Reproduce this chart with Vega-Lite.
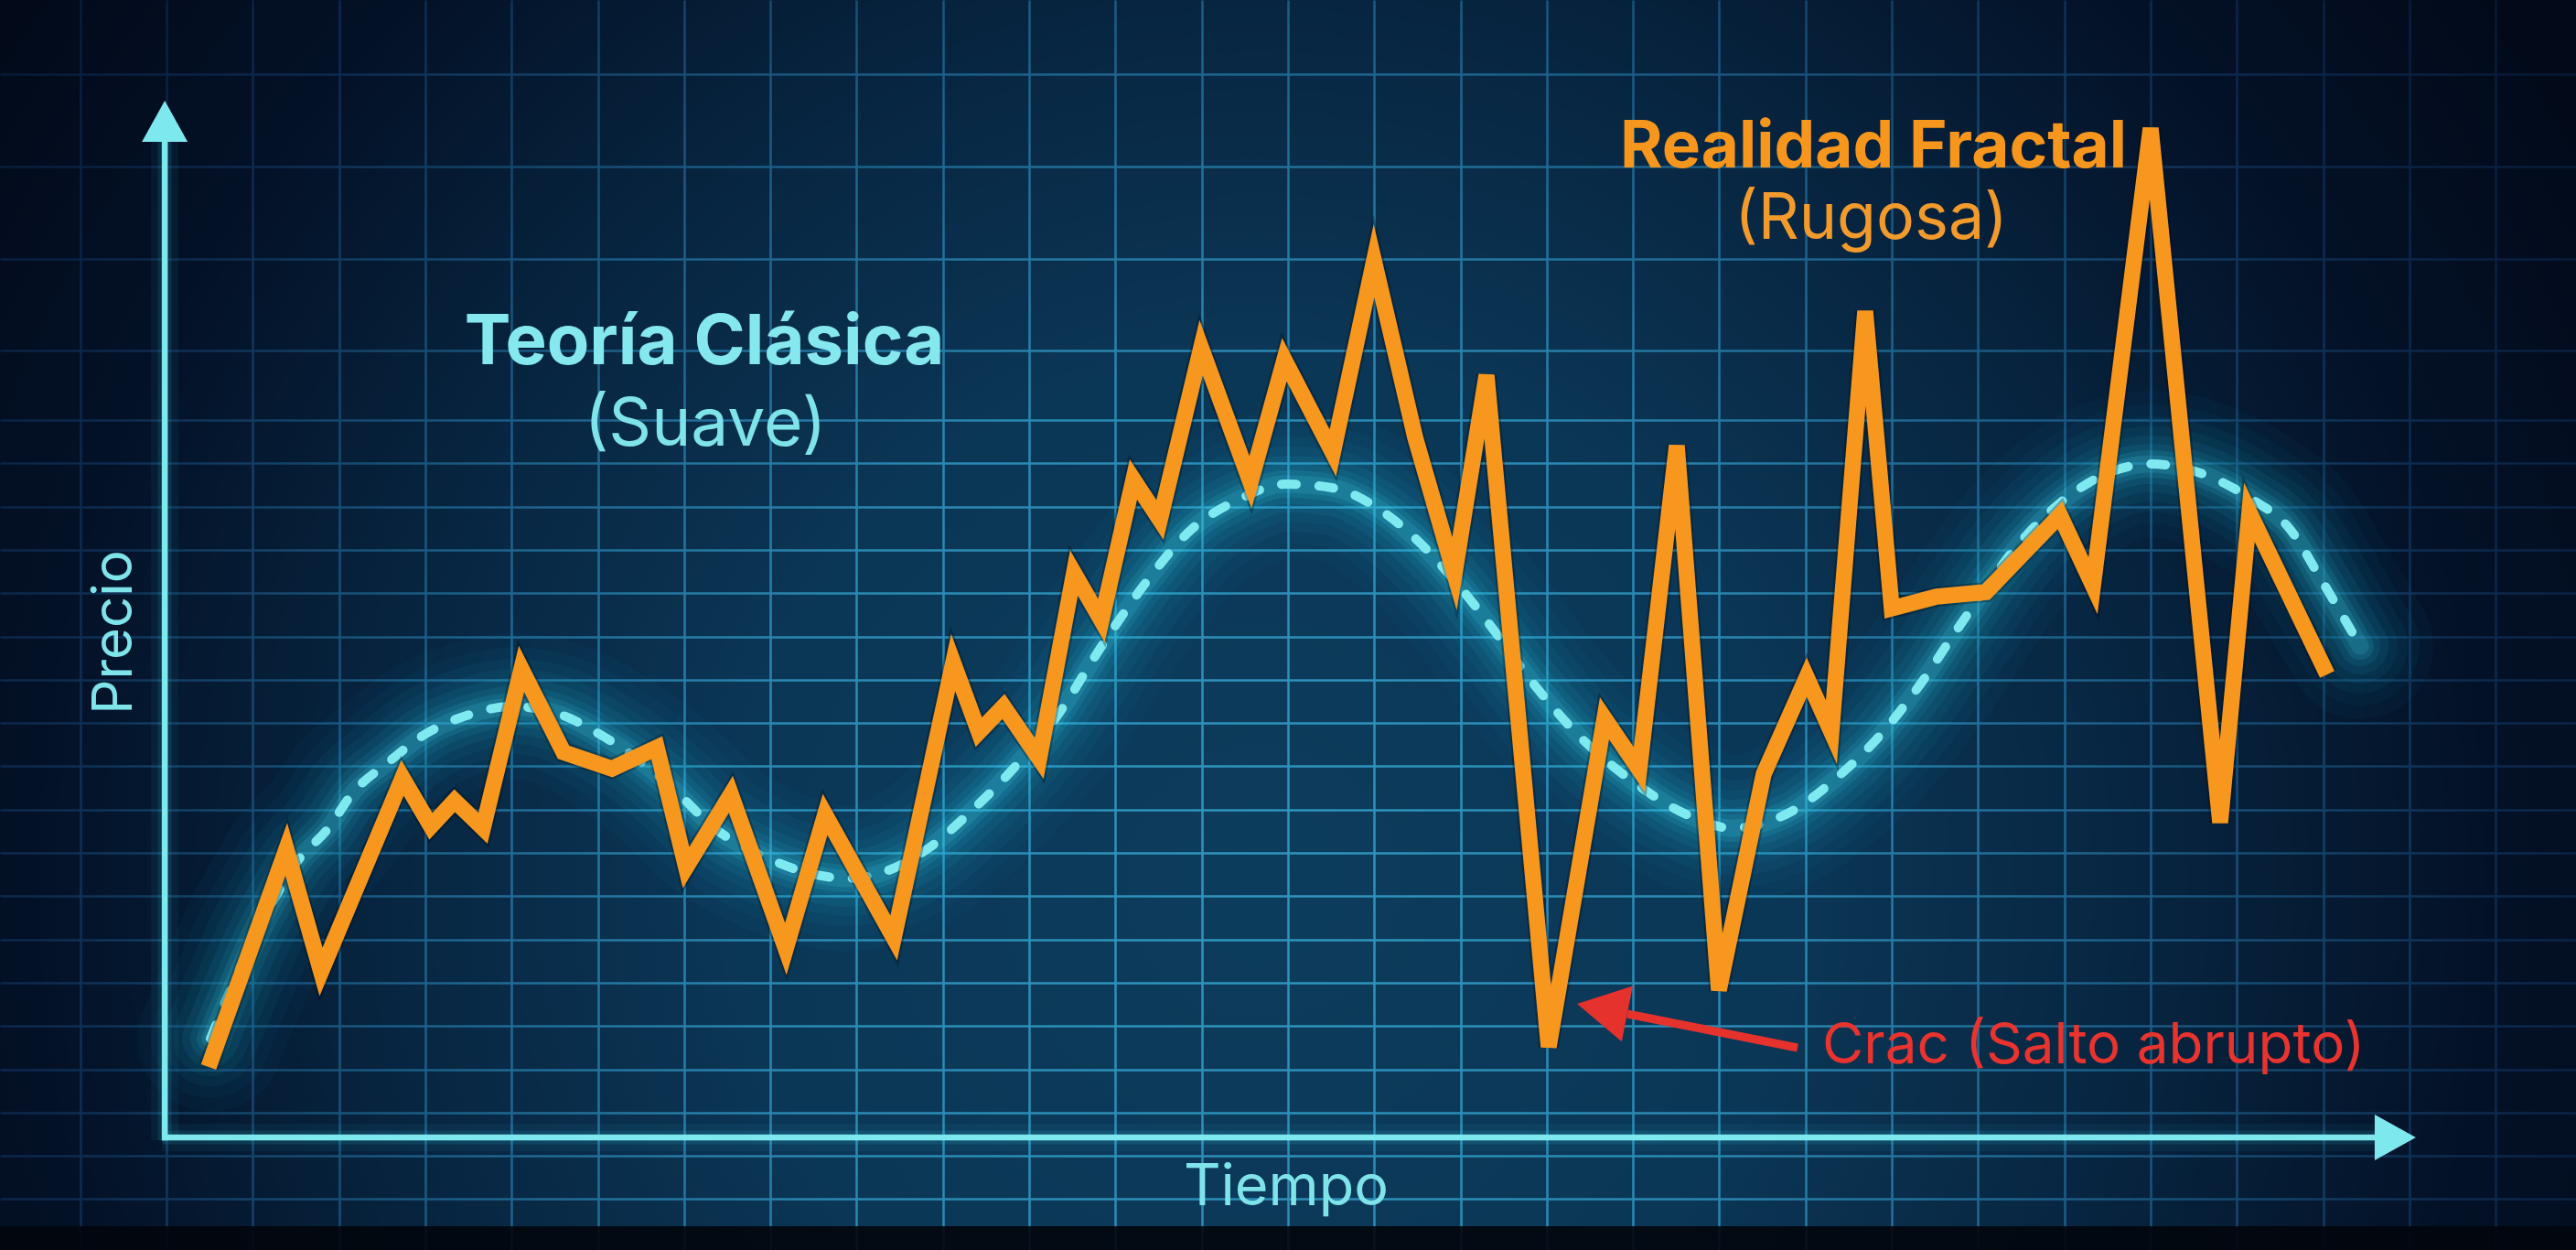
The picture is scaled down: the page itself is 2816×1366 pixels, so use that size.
{
  "$schema": "https://vega.github.io/schema/vega-lite/v6.json",
  "width": 2816,
  "height": 1366,
  "autosize": {"type": "none"},
  "padding": 0,
  "background": "#020a1a",
  "config": {
    "view": {"stroke": null, "fill": "#0c3c5c"},
    "axis": {"minExtent": 0, "offset": 0}
  },
  "data": {"values": [{}]},
  "datasets": {
    "realidad": [
      {"t": 0.488, "p": 1.628}, {"t": 1.389, "p": 6.660}, {"t": 1.792, "p": 3.827},
      {"t": 2.736, "p": 8.309}, {"t": 3.065, "p": 7.188}, {"t": 3.340, "p": 7.780},
      {"t": 3.669, "p": 7.146}, {"t": 4.115, "p": 10.825}, {"t": 4.602, "p": 8.901},
      {"t": 5.164, "p": 8.520}, {"t": 5.684, "p": 9.006}, {"t": 6.023, "p": 6.237},
      {"t": 6.543, "p": 7.928}, {"t": 7.179, "p": 4.355}, {"t": 7.635, "p": 7.463},
      {"t": 8.431, "p": 4.609}, {"t": 9.120, "p": 10.973}, {"t": 9.417, "p": 9.366},
      {"t": 9.703, "p": 9.958}, {"t": 10.117, "p": 8.753}, {"t": 10.520, "p": 13.044},
      {"t": 10.838, "p": 11.945}, {"t": 11.209, "p": 15.201}, {"t": 11.516, "p": 14.271},
      {"t": 11.994, "p": 18.245}, {"t": 12.566, "p": 15.137}, {"t": 12.959, "p": 17.970},
      {"t": 13.521, "p": 15.814}, {"t": 13.998, "p": 20.254}, {"t": 14.475, "p": 16.173},
      {"t": 14.931, "p": 13.023}, {"t": 15.302, "p": 17.611}, {"t": 16.023, "p": 2.093},
      {"t": 16.670, "p": 9.683}, {"t": 17.073, "p": 8.499}, {"t": 17.508, "p": 15.983},
      {"t": 17.996, "p": 3.404}, {"t": 18.515, "p": 8.393}, {"t": 19.014, "p": 10.634},
      {"t": 19.300, "p": 9.366}, {"t": 19.692, "p": 19.091}, {"t": 20.000, "p": 12.220},
      {"t": 20.520, "p": 12.495}, {"t": 21.092, "p": 12.600}, {"t": 21.951, "p": 14.376},
      {"t": 22.333, "p": 12.748}, {"t": 23.001, "p": 23.319}, {"t": 23.807, "p": 7.273},
      {"t": 24.146, "p": 14.440}, {"t": 25.048, "p": 10.698}
    ],
    "clasica": [
      {"t": 0.509, "p": 2.283}, {"t": 0.774, "p": 3.552}, {"t": 1.018, "p": 4.651},
      {"t": 1.251, "p": 5.518}, {"t": 1.495, "p": 6.321}, {"t": 1.877, "p": 7.146},
      {"t": 2.163, "p": 7.970}, {"t": 2.545, "p": 8.626}, {"t": 3.022, "p": 9.345},
      {"t": 3.478, "p": 9.746}, {"t": 4.008, "p": 9.958}, {"t": 4.539, "p": 9.789},
      {"t": 5.069, "p": 9.260}, {"t": 5.493, "p": 8.689}, {"t": 5.875, "p": 8.055},
      {"t": 6.352, "p": 7.146}, {"t": 6.925, "p": 6.490}, {"t": 7.593, "p": 6.047},
      {"t": 7.879, "p": 5.983}, {"t": 8.165, "p": 6.047}, {"t": 8.833, "p": 6.681},
      {"t": 9.311, "p": 7.505}, {"t": 9.777, "p": 8.436}, {"t": 10.350, "p": 9.810},
      {"t": 10.827, "p": 11.311}, {"t": 11.326, "p": 12.748}, {"t": 11.888, "p": 14.059},
      {"t": 12.428, "p": 14.736}, {"t": 12.969, "p": 15.095}, {"t": 13.510, "p": 15.011},
      {"t": 14.051, "p": 14.524}, {"t": 14.539, "p": 13.721}, {"t": 14.910, "p": 12.918},
      {"t": 15.302, "p": 11.945}, {"t": 15.854, "p": 10.465}, {"t": 16.331, "p": 9.366},
      {"t": 16.999, "p": 8.224}, {"t": 17.667, "p": 7.421}, {"t": 18.144, "p": 7.146},
      {"t": 18.812, "p": 7.505}, {"t": 19.385, "p": 8.351}, {"t": 19.851, "p": 9.260},
      {"t": 20.329, "p": 10.465}, {"t": 20.764, "p": 11.755}, {"t": 21.570, "p": 13.932},
      {"t": 22.142, "p": 14.947}, {"t": 23.001, "p": 15.560}, {"t": 23.478, "p": 15.412},
      {"t": 24.146, "p": 14.778}, {"t": 24.623, "p": 14.038}, {"t": 24.995, "p": 12.833},
      {"t": 25.430, "p": 11.353}
    ]
  },
  "layer": [
    {
      "description": "Radial vignette multiplied over the background and the grid",
      "mark": {
        "type": "rect",
        "stroke": null,
        "blend": "multiply",
        "fill": {
          "gradient": "radial",
          "x1": 0.49, "y1": 0.6, "r1": 0,
          "x2": 0.49, "y2": 0.6, "r2": 0.72,
          "stops": [
            {"offset": 0, "color": "#ffffff"},
            {"offset": 0.28, "color": "#e2e8ee"},
            {"offset": 0.48, "color": "#8e9ab0"},
            {"offset": 0.66, "color": "#40486a"},
            {"offset": 0.82, "color": "#242846"},
            {"offset": 1, "color": "#181a32"}
          ]
        }
      },
      "encoding": {
        "x": {
          "datum": -1.93, "type": "quantitative",
          "scale": {"domain": [-1.93, 27.932], "nice": false, "zero": false},
          "axis": {
            "values": [-1, 0, 1, 2, 3, 4, 5, 6, 7, 8, 9, 10, 11, 12, 13, 14, 15, 16, 17, 18, 19, 20, 21, 22, 23, 24, 25, 26, 27],
            "grid": true, "gridColor": "#2f96c0", "gridWidth": 2.5, "gridOpacity": 1,
            "labels": false, "ticks": false, "domain": false, "title": null
          }
        },
        "x2": {"datum": 27.932},
        "y": {
          "datum": -2.6, "type": "quantitative",
          "scale": {"domain": [-2.6, 26.279], "nice": false, "zero": false},
          "axis": {
            "values": [24.57, 22.43, 20.3, 18.18, 16.575, 15.575, 14.575, 13.575, 12.575, 11.575, 10.575, 9.575, 8.575, 7.575, 6.575, 5.575, 4.575, 3.575, 2.575, 1.575, 0.575, -0.425, -1.425],
            "grid": true, "gridColor": "#2f96c0", "gridWidth": 2.5, "gridOpacity": 1,
            "labels": false, "ticks": false, "domain": false, "title": null
          }
        },
        "y2": {"datum": 26.279}
      }
    },
    {
      "description": "Glow of the axis lines",
      "mark": {"type": "rule", "color": "#39d0e8", "strokeWidth": 30, "opacity": 0.06},
      "encoding": {"x": {"datum": -0.02, "type": "quantitative"}, "y": {"datum": -0.07, "type": "quantitative"}, "y2": {"datum": 23.05}}
    },
    {
      "mark": {"type": "rule", "color": "#39d0e8", "strokeWidth": 15, "opacity": 0.12},
      "encoding": {"x": {"datum": -0.02, "type": "quantitative"}, "y": {"datum": -0.07, "type": "quantitative"}, "y2": {"datum": 23.05}}
    },
    {
      "mark": {"type": "rule", "color": "#39d0e8", "strokeWidth": 30, "opacity": 0.06},
      "encoding": {"y": {"datum": 0, "type": "quantitative"}, "x": {"datum": -0.05, "type": "quantitative"}, "x2": {"datum": 25.62}}
    },
    {
      "mark": {"type": "rule", "color": "#39d0e8", "strokeWidth": 15, "opacity": 0.12},
      "encoding": {"y": {"datum": 0, "type": "quantitative"}, "x": {"datum": -0.05, "type": "quantitative"}, "x2": {"datum": 25.62}}
    },
    {
      "description": "Soft halo around the smooth classical curve, built from stacked translucent strokes",
      "data": {"name": "clasica"},
      "mark": {"type": "line", "interpolate": "monotone", "color": "#1fb6dc", "strokeWidth": 160, "opacity": 0.035, "strokeCap": "round"},
      "encoding": {"x": {"field": "t", "type": "quantitative"}, "y": {"field": "p", "type": "quantitative"}}
    },
    {
      "data": {"name": "clasica"},
      "mark": {"type": "line", "interpolate": "monotone", "color": "#1fb6dc", "strokeWidth": 130, "opacity": 0.04, "strokeCap": "round"},
      "encoding": {"x": {"field": "t", "type": "quantitative"}, "y": {"field": "p", "type": "quantitative"}}
    },
    {
      "data": {"name": "clasica"},
      "mark": {"type": "line", "interpolate": "monotone", "color": "#22bde0", "strokeWidth": 104, "opacity": 0.05, "strokeCap": "round"},
      "encoding": {"x": {"field": "t", "type": "quantitative"}, "y": {"field": "p", "type": "quantitative"}}
    },
    {
      "data": {"name": "clasica"},
      "mark": {"type": "line", "interpolate": "monotone", "color": "#22bde0", "strokeWidth": 82, "opacity": 0.06, "strokeCap": "round"},
      "encoding": {"x": {"field": "t", "type": "quantitative"}, "y": {"field": "p", "type": "quantitative"}}
    },
    {
      "data": {"name": "clasica"},
      "mark": {"type": "line", "interpolate": "monotone", "color": "#2ac8e8", "strokeWidth": 62, "opacity": 0.075, "strokeCap": "round"},
      "encoding": {"x": {"field": "t", "type": "quantitative"}, "y": {"field": "p", "type": "quantitative"}}
    },
    {
      "data": {"name": "clasica"},
      "mark": {"type": "line", "interpolate": "monotone", "color": "#2ac8e8", "strokeWidth": 44, "opacity": 0.09, "strokeCap": "round"},
      "encoding": {"x": {"field": "t", "type": "quantitative"}, "y": {"field": "p", "type": "quantitative"}}
    },
    {
      "data": {"name": "clasica"},
      "mark": {"type": "line", "interpolate": "monotone", "color": "#3ad6ee", "strokeWidth": 30, "opacity": 0.12, "strokeCap": "round"},
      "encoding": {"x": {"field": "t", "type": "quantitative"}, "y": {"field": "p", "type": "quantitative"}}
    },
    {
      "data": {"name": "clasica"},
      "mark": {"type": "line", "interpolate": "monotone", "color": "#4adcf0", "strokeWidth": 19, "opacity": 0.15, "strokeCap": "round"},
      "encoding": {"x": {"field": "t", "type": "quantitative"}, "y": {"field": "p", "type": "quantitative"}}
    },
    {
      "description": "Classical theory: smooth dashed curve",
      "data": {"name": "clasica"},
      "mark": {"type": "line", "interpolate": "monotone", "color": "#7fe9f0", "strokeWidth": 10, "strokeDash": [16, 25], "strokeCap": "round"},
      "encoding": {"x": {"field": "t", "type": "quantitative"}, "y": {"field": "p", "type": "quantitative"}}
    },
    {
      "description": "Axis lines and arrowheads",
      "mark": {"type": "rule", "color": "#7ee8ef", "strokeWidth": 6.5},
      "encoding": {"x": {"datum": -0.02, "type": "quantitative"}, "y": {"datum": -0.07, "type": "quantitative"}, "y2": {"datum": 23.05}}
    },
    {
      "mark": {"type": "rule", "color": "#7ee8ef", "strokeWidth": 6.5},
      "encoding": {"y": {"datum": 0, "type": "quantitative"}, "x": {"datum": -0.05, "type": "quantitative"}, "x2": {"datum": 25.62}}
    },
    {
      "mark": {"type": "point", "shape": "M0,-0.9L-1,0.9L1,0.9Z", "size": 2500, "filled": true, "color": "#7ee8ef", "opacity": 1, "strokeWidth": 0},
      "encoding": {"x": {"datum": -0.02, "type": "quantitative"}, "y": {"datum": 23.478, "type": "quantitative"}}
    },
    {
      "mark": {"type": "point", "shape": "M0.9,0L-0.9,-1L-0.9,1Z", "size": 2500, "filled": true, "color": "#7ee8ef", "opacity": 1, "strokeWidth": 0},
      "encoding": {"x": {"datum": 25.837, "type": "quantitative"}, "y": {"datum": 0, "type": "quantitative"}}
    },
    {
      "description": "Fractal reality: rough price path (soft shadow, then line)",
      "data": {"name": "realidad"},
      "mark": {"type": "line", "color": "#000a14", "opacity": 0.3, "strokeWidth": 22, "strokeJoin": "miter", "strokeMiterLimit": 6, "strokeCap": "butt"},
      "encoding": {"x": {"field": "t", "type": "quantitative"}, "y": {"field": "p", "type": "quantitative"}}
    },
    {
      "data": {"name": "realidad"},
      "mark": {"type": "line", "color": "#f7971e", "strokeWidth": 17.5, "strokeJoin": "miter", "strokeMiterLimit": 6, "strokeCap": "butt"},
      "encoding": {"x": {"field": "t", "type": "quantitative"}, "y": {"field": "p", "type": "quantitative"}}
    },
    {
      "description": "Labels",
      "mark": {"type": "text", "text": "Teoría Clásica", "font": "Inter", "fontWeight": "bold", "fontSize": 76, "color": "#86e8ef", "align": "center", "baseline": "alphabetic"},
      "encoding": {"x": {"datum": 6.235, "type": "quantitative"}, "y": {"datum": 17.865, "type": "quantitative"}}
    },
    {
      "mark": {"type": "text", "text": "(Suave)", "font": "Inter", "fontWeight": "normal", "fontSize": 73, "color": "#7fe3ea", "align": "center", "baseline": "alphabetic"},
      "encoding": {"x": {"datum": 6.246, "type": "quantitative"}, "y": {"datum": 15.983, "type": "quantitative"}}
    },
    {
      "mark": {"type": "text", "text": "Realidad Fractal", "font": "Inter", "fontWeight": "bold", "fontSize": 71, "color": "#f7961d", "align": "center", "baseline": "alphabetic"},
      "encoding": {"x": {"datum": 19.788, "type": "quantitative"}, "y": {"datum": 22.41, "type": "quantitative"}}
    },
    {
      "mark": {"type": "text", "text": "(Rugosa)", "font": "Inter", "fontWeight": "normal", "fontSize": 70, "color": "#f29a2c", "align": "center", "baseline": "alphabetic"},
      "encoding": {"x": {"datum": 19.761, "type": "quantitative"}, "y": {"datum": 20.761, "type": "quantitative"}}
    },
    {
      "mark": {"type": "text", "text": "Precio", "font": "Inter", "fontSize": 60, "color": "#7fe3ea", "align": "center", "baseline": "alphabetic", "angle": 270},
      "encoding": {"x": {"datum": -0.403, "type": "quantitative"}, "y": {"datum": 11.67, "type": "quantitative"}}
    },
    {
      "mark": {"type": "text", "text": "Tiempo", "font": "Inter", "fontSize": 63, "color": "#7fe3ea", "align": "center", "baseline": "alphabetic"},
      "encoding": {"x": {"datum": 12.98, "type": "quantitative"}, "y": {"datum": -1.564, "type": "quantitative"}}
    },
    {
      "description": "Crash annotation",
      "mark": {"type": "rule", "color": "#e5322d", "strokeWidth": 9},
      "encoding": {"x": {"datum": 18.908, "type": "quantitative"}, "y": {"datum": 2.072, "type": "quantitative"}, "x2": {"datum": 16.935}, "y2": {"datum": 2.854}}
    },
    {
      "mark": {"type": "point", "shape": "M-0.9,0L0.9,-1L0.9,1Z", "size": 3844, "angle": 11.2, "filled": true, "color": "#e5322d", "opacity": 1, "strokeWidth": 0},
      "encoding": {"x": {"datum": 16.643, "type": "quantitative"}, "y": {"datum": 2.973, "type": "quantitative"}}
    },
    {
      "mark": {"type": "text", "text": "Crac (Salto abrupto)", "font": "Inter", "fontSize": 62, "color": "#e8332f", "align": "left", "baseline": "alphabetic"},
      "encoding": {"x": {"datum": 19.194, "type": "quantitative"}, "y": {"datum": 1.712, "type": "quantitative"}}
    },
    {
      "description": "Dark strip along the bottom edge",
      "mark": {"type": "rect", "color": "#02060c", "opacity": 0.9},
      "encoding": {"x": {"datum": -1.93, "type": "quantitative"}, "x2": {"datum": 27.932}, "y": {"datum": -2.6, "type": "quantitative"}, "y2": {"datum": -2.051}}
    }
  ]
}
